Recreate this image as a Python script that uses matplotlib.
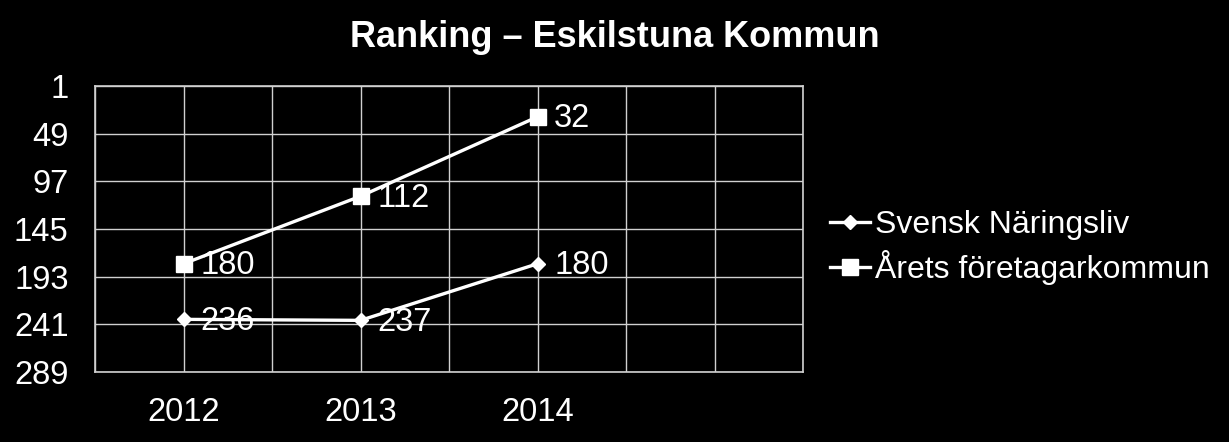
import matplotlib.pyplot as plt

years = ["2012", "2013", "2014", ""]
svensk = [236, 237, 180]
arets = [180, 112, 32]
yticks = [1, 49, 97, 145, 193, 241, 289]

plt.rcParams['font.family'] = ['Liberation Sans', 'DejaVu Sans']

fig = plt.figure(figsize=(12.29, 4.42), dpi=100, facecolor='black')
ax = fig.add_axes([0.0773, 0.1584, 0.5761, 0.647])
ax.set_facecolor('black')

x = range(len(svensk))
ax.plot(x, svensk, color='white', lw=2.4, marker='D', markersize=7,
        label='Svensk Näringsliv')
ax.plot(x, arets, color='white', lw=2.4, marker='s', markersize=11,
        label='Årets företagarkommun')

# data labels right of each point
for xi, v in zip(x, svensk):
    ax.annotate(str(v), (xi, v), xytext=(12, -1.5), textcoords='offset points',
                color='white', fontsize=23.5, va='center', ha='left')
for xi, v in zip(x, arets):
    ax.annotate(str(v), (xi, v), xytext=(12, -1.5), textcoords='offset points',
                color='white', fontsize=23.5, va='center', ha='left')

ax.set_xlim(-0.5, len(years) - 0.5)
ax.set_ylim(289, 1)
ax.set_yticks(yticks)
ax.set_xticks(range(len(years)))
ax.set_xticklabels(years)
ax.set_xticks([i - 0.5 for i in range(len(years) + 1)], minor=True)
ax.grid(True, which='both', color='#d0d0d0', lw=1)
ax.set_axisbelow(True)
ax.tick_params(which='both', length=0, colors='white', labelsize=23.5)
ax.tick_params(axis='y', pad=19)
ax.tick_params(axis='x', pad=18)
for s in ax.spines.values():
    s.set_color('#d0d0d0')
    s.set_linewidth(1.2)

fig.text(0.5, 0.916, 'Ranking – Eskilstuna Kommun', color='white',
         fontsize=26, fontweight='bold', ha='center', va='center')

leg = fig.legend(loc='center left', bbox_to_anchor=(0.657, 0.44),
                 frameon=False, fontsize=23, labelcolor='white',
                 handlelength=1.25, handletextpad=0.15, labelspacing=0.3,
                 borderpad=0.2)

fig.savefig('out.png', dpi=100, facecolor='black')
